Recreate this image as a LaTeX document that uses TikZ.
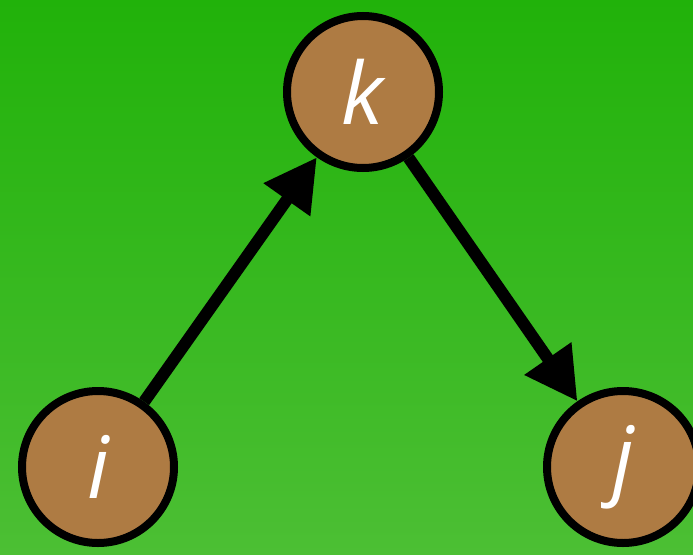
\documentclass[tikz,border=0pt]{standalone}
\usepackage{fontspec}
\setmainfont{Open Sans}
\usetikzlibrary{arrows.meta}
\definecolor{bgtop}{RGB}{33,178,10}
\definecolor{bgbot}{RGB}{76,191,52}
\definecolor{nodebrown}{RGB}{174,123,67}
\tikzset{
  vert/.style={circle, draw=black, line width=8pt, fill=nodebrown, minimum size=152pt, inner sep=0pt,
    text=white, font=\fontsize{86}{86}\selectfont\itshape},
  edge/.style={line width=12pt, -{Triangle[length=52pt,width=54pt]}}
}
\begin{document}
\begin{tikzpicture}[x=1pt,y=-1pt]
\useasboundingbox (0,0) rectangle (693,554);
\shade[top color=bgtop, bottom color=bgbot] (0,0) rectangle (693,554);
\node[vert] (k) at (363,92) {k};
\node[vert] (i) at (98,467) {i};
\node[vert] (j) at (623,467) {j};
\draw[edge] (i) -- (k);
\draw[edge] (k) -- (j);
\end{tikzpicture}
\end{document}
